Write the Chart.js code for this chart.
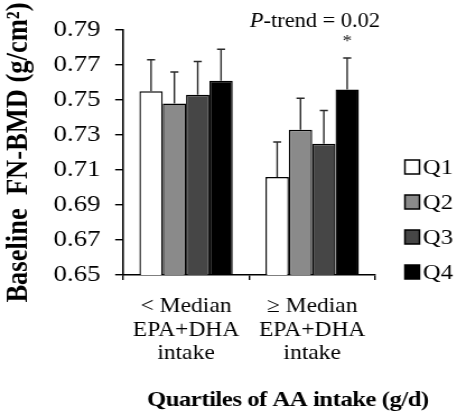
<!DOCTYPE html>
<html>
<head>
<meta charset="utf-8">
<script src="https://cdn.jsdelivr.net/npm/chart.js@4.4.0/dist/chart.umd.min.js"></script>
<style>
  html, body { margin: 0; padding: 0; background: #fff; }
  /* the source figure is a bit stretched horizontally, so the canvas is too */
  #chart { display: block; width: 457px !important; height: 414px !important; }
</style>
</head>
<body>
<canvas id="chart" width="408" height="414"></canvas>
<script>
const categories = [['< Median', 'EPA+DHA', 'intake'], ['\u2265 Median', 'EPA+DHA', 'intake']];
const seriesNames = ['Q1', 'Q2', 'Q3', 'Q4'];
const q1 = [0.755, 0.706];
const q2 = [0.748, 0.733];
const q3 = [0.753, 0.725];
const q4 = [0.761, 0.756];
const q1Se = [0.018, 0.020];
const q2Se = [0.018, 0.018];
const q3Se = [0.019, 0.019];
const q4Se = [0.018, 0.018];
const q4Star = [false, true];
const yMin = 0.65, yMax = 0.79, yStep = 0.02;
const pTrend = '0.02';

const seriesColors = ['#ffffff', '#8a8a8a', '#464646', '#000000'];
const serif = "'Liberation Serif', 'Times New Roman', serif";

const values = [q1, q2, q3, q4];
const errors = [q1Se, q2Se, q3Se, q4Se];
const stars = [null, null, null, q4Star];

const extras = {
  id: 'extras',
  afterDatasetsDraw(chart) {
    const ctx = chart.ctx;
    const y = chart.scales.y;
    ctx.save();
    // upper error bars only
    ctx.strokeStyle = '#2a2a2a';
    ctx.lineWidth = 1.4;
    chart.data.datasets.forEach((ds, i) => {
      const meta = chart.getDatasetMeta(i);
      meta.data.forEach((bar, j) => {
        const top = y.getPixelForValue(ds.data[j] + ds.se[j]);
        ctx.beginPath();
        ctx.moveTo(bar.x, bar.y);
        ctx.lineTo(bar.x, top);
        ctx.moveTo(bar.x - 3.6, top);
        ctx.lineTo(bar.x + 3.6, top);
        ctx.stroke();
        if (ds.star && ds.star[j]) {
          ctx.fillStyle = '#222';
          ctx.font = '17px ' + serif;
          ctx.textAlign = 'center';
          ctx.textBaseline = 'middle';
          ctx.fillText('*', bar.x, top - 16);
        }
      });
    });
    ctx.restore();
  },
  afterDraw(chart) {
    const ctx = chart.ctx;
    const x = chart.scales.x;
    ctx.save();
    ctx.fillStyle = '#000';
    ctx.textBaseline = 'alphabetic';

    // P-trend note above the second group
    const cx = x.getPixelForValue(1) + 2.5;
    ctx.font = 'italic 20px ' + serif;
    const wP = ctx.measureText('P').width;
    ctx.font = '20px ' + serif;
    const rest = '-trend = ' + pTrend;
    const wR = ctx.measureText(rest).width;
    const sx = cx - (wP + wR) / 2;
    ctx.textAlign = 'left';
    ctx.font = 'italic 20px ' + serif;
    ctx.fillText('P', sx, 27);
    ctx.font = '20px ' + serif;
    ctx.fillText(rest, sx + wP, 27);

    // x axis title, centred on the whole figure
    ctx.font = 'bold 22px ' + serif;
    ctx.letterSpacing = '-0.4px';
    ctx.textAlign = 'center';
    ctx.fillText('Quartiles of AA intake (g/d)', 257, 406);
    ctx.letterSpacing = '0px';

    // legend
    ctx.font = '22px ' + serif;
    ctx.textAlign = 'left';
    ctx.textBaseline = 'middle';
    ctx.lineWidth = 1.5;
    ctx.strokeStyle = '#000';
    chart.data.datasets.forEach((ds, i) => {
      const cy = 167 + i * 35;
      ctx.fillStyle = ds.backgroundColor;
      ctx.fillRect(361.5, cy - 7, 13, 14);
      ctx.strokeRect(361.5, cy - 7, 13, 14);
      ctx.fillStyle = '#000';
      ctx.fillText(ds.label, 377.5, cy + 1);
    });
    ctx.restore();
  }
};

new Chart(document.getElementById('chart'), {
  type: 'bar',
  data: {
    labels: categories,
    datasets: seriesNames.map((name, i) => ({
      label: name,
      data: values[i],
      se: errors[i],
      star: stars[i],
      backgroundColor: seriesColors[i],
      borderColor: '#000',
      borderWidth: 1.4,
      categoryPercentage: 0.74,
      barPercentage: 1.0
    }))
  },
  options: {
    responsive: false,
    animation: false,
    layout: { padding: { top: 30, right: 73, left: 0, bottom: 0 } },
    plugins: { legend: { display: false }, tooltip: { enabled: false } },
    scales: {
      x: {
        grid: { display: true, drawOnChartArea: false, drawTicks: true, tickLength: 5, color: '#000', lineWidth: 1.4 },
        border: { display: true, color: '#000', width: 1.6 },
        ticks: { color: '#000', padding: 15, font: { family: serif, size: 21, lineHeight: 1.12 }, maxRotation: 0 },
        afterFit(scale) { scale.height = 139; }
      },
      y: {
        min: yMin,
        max: yMax,
        grid: { display: true, drawOnChartArea: false, drawTicks: true, tickLength: 7, color: '#000', lineWidth: 1.4 },
        border: { display: true, color: '#000', width: 1.6 },
        ticks: {
          stepSize: yStep,
          color: '#000',
          padding: 13,
          font: { family: serif, size: 24 },
          callback: v => v.toFixed(2)
        },
        title: {
          display: true,
          text: 'Baseline  FN-BMD (g/cm\u00b2)',
          color: '#000',
          font: { family: serif, size: 26.5, weight: 'bold' },
          padding: { top: 1, bottom: 0 }
        },
        afterFit(scale) { scale.width = 109.8; }
      }
    }
  },
  plugins: [extras]
});
</script>
</body>
</html>
